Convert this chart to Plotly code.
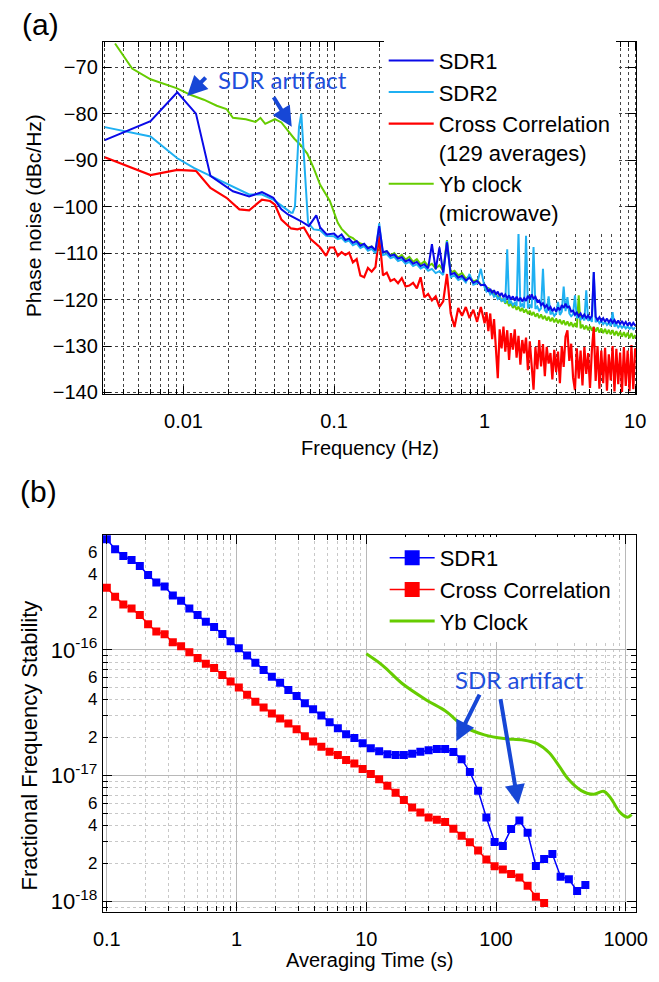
import math
import plotly.graph_objects as go

W, H = 659, 982


def px(x):
    return x / W


def py(y):
    return 1 - y / H


# ---------------- panel (a): phase noise ----------------
# low-frequency parts (Hz, dBc/Hz)
sdr1_lo_f = [0.003, 0.00604, 0.0091, 0.0121, 0.0151, 0.0213, 0.0273, 0.0332, 0.0395,
             0.0447, 0.0494, 0.0601, 0.068, 0.0762, 0.0809, 0.0893]
sdr1_lo = [-85.7, -81.6, -75.4, -80.0, -93.4, -96.7, -97.8, -96.9, -98.1,
           -100.6, -101.7, -103.1, -104.2, -101.9, -104.5, -106.0]

sdr2_lo_f = [0.003, 0.00604, 0.0091, 0.0118, 0.0151, 0.0273, 0.0332, 0.0395, 0.0518,
             0.0531, 0.0550, 0.0585, 0.0606, 0.0630, 0.0672, 0.0732, 0.0809, 0.0885]
sdr2_lo = [-82.9, -84.9, -89.6, -91.7, -93.4, -97.4, -97.4, -98.5, -101.3,
           -101.3, -100.0, -82.9, -80.0, -88.2, -103.5, -104.9, -105.1, -106.3]

cross_lo_f = [0.003, 0.00604, 0.0091, 0.0121, 0.0151, 0.0193, 0.0235, 0.0273, 0.0332,
              0.0376, 0.0405, 0.0447, 0.0518, 0.0571, 0.0630, 0.0699, 0.0809, 0.0885, 0.0938]
cross_lo = [-89.4, -93.2, -92.1, -92.3, -96.0, -98.1, -100.6, -100.8, -98.5,
            -98.8, -99.6, -102.8, -104.7, -104.9, -104.5, -107.0, -108.8, -110.6, -108.8]

yb_lo_f = [0.00351, 0.00456, 0.00604, 0.00898, 0.01122, 0.01365, 0.01663, 0.01929, 0.0213,
           0.02594, 0.03008, 0.03243, 0.03491, 0.04049, 0.04469, 0.04937, 0.05449, 0.06014,
           0.06637, 0.07323, 0.08087, 0.09381]
yb_lo = [-64.9, -70.3, -72.6, -74.5, -76.0, -77.0, -78.3, -79.0, -80.9,
         -81.2, -81.8, -80.9, -82.2, -81.2, -81.9, -83.6, -85.4, -86.8,
         -88.6, -91.7, -95.3, -98.8]

# high-frequency part, shared frequency list (Hz)
f_hi = [0.1, 0.1059, 0.1122, 0.1189, 0.1259, 0.1334, 0.1413, 0.1496, 0.1585, 0.1679,
        0.1778, 0.1884, 0.1995, 0.2113, 0.2239, 0.2371, 0.2512, 0.2661, 0.2818, 0.2985,
        0.3162, 0.3350, 0.3548, 0.3758, 0.3981, 0.4217, 0.4467, 0.4732, 0.5012, 0.5309,
        0.5623, 0.5957, 0.6310, 0.6683, 0.7079, 0.7499, 0.7943, 0.8414, 0.8913, 0.9441,
        1.0,
        1.029, 1.059, 1.090, 1.122, 1.155, 1.189, 1.223, 1.259, 1.296, 1.334,
        1.372, 1.413, 1.454, 1.496, 1.540, 1.585, 1.631, 1.679, 1.728, 1.778,
        1.830, 1.884, 1.939, 1.995, 2.054, 2.113, 2.175, 2.239, 2.304, 2.371,
        2.441, 2.512, 2.585, 2.661, 2.738, 2.818, 2.901, 2.985, 3.073, 3.162,
        3.255, 3.350, 3.447, 3.548, 3.652, 3.758, 3.868, 3.981, 4.097, 4.217,
        4.340, 4.467, 4.597, 4.732, 4.870, 5.012, 5.158, 5.309, 5.464, 5.623,
        5.788, 5.957, 6.131, 6.310, 6.494, 6.683, 6.879, 7.079, 7.286, 7.499,
        7.718, 7.943, 8.175, 8.414, 8.660, 8.913, 9.173, 9.441, 9.716, 10.0]

sdr1_hi = [-105.8, -106.6, -106.0, -107.2, -106.9, -107.8, -107.4, -108.4, -108.0, -109.0,
           -108.6, -109.4, -104.2, -109.8, -109.6, -110.6, -110.3, -111.2, -110.9, -111.8,
           -111.4, -112.3, -111.9, -112.8, -112.4, -113.3, -108.1, -113.5, -108.8, -114.2,
           -107.7, -114.6, -114.3, -115.3, -114.9, -115.9, -115.3, -116.4, -116.0, -116.9,
           -116.8,
           -117.3, -118.3, -117.7, -118.6, -118.0, -118.9, -118.3, -119.2, -118.6, -119.5,
           -118.9, -119.7, -119.1, -120.0, -119.3, -120.2, -119.4, -120.3, -119.6, -120.4,
           -119.7, -120.3, -119.2, -119.9, -118.9, -119.8, -119.4, -120.5, -120.2, -121.2,
           -120.8, -121.7, -121.2, -122.1, -121.6, -122.5, -121.9, -122.6, -121.7, -122.3,
           -121.2, -121.8, -120.9, -121.7, -121.5, -122.6, -122.4, -123.3, -122.8, -123.6,
           -123.0, -123.8, -123.2, -124.0, -123.4, -124.1, -123.5, -114.1, -123.7, -124.4,
           -123.8, -124.6, -124.0, -124.8, -124.1, -124.9, -124.3, -125.0, -124.4, -125.2,
           -124.5, -125.3, -124.6, -125.4, -124.8, -125.6, -124.9, -125.7, -125.0, -125.6]

sdr2_hi = [-106.4, -107.0, -106.7, -107.6, -107.3, -108.3, -107.9, -108.9, -108.5, -109.5,
           -109.1, -110.0, -103.6, -110.4, -110.2, -111.1, -110.8, -111.7, -111.4, -112.3,
           -111.9, -112.8, -112.4, -113.3, -112.9, -113.8, -113.4, -114.3, -113.9, -114.7,
           -107.4, -115.2, -114.8, -115.8, -115.4, -116.3, -114.5, -116.8, -116.5, -113.4,
           -117.4,
           -118.3, -117.9, -118.9, -118.5, -119.4, -119.0, -119.9, -119.5, -120.3, -119.9,
           -120.7, -109.2, -120.9, -120.4, -121.2, -120.7, -121.4, -105.6, -121.6, -121.0,
           -121.8, -106.3, -121.9, -121.2, -121.8, -108.7, -122.0, -121.5, -122.4, -121.9,
           -113.4, -122.3, -122.9, -119.3, -123.2, -122.7, -123.5, -123.0, -120.5, -123.3,
           -122.6, -117.2, -122.5, -119.5, -123.0, -123.6, -123.2, -119.1, -124.0, -123.5,
           -124.3, -123.8, -124.5, -118.0, -124.6, -124.0, -124.8, -114.1, -124.9, -124.3,
           -125.1, -124.6, -125.3, -124.8, -125.5, -125.0, -125.7, -122.7, -125.8, -125.3,
           -126.0, -125.5, -126.1, -125.6, -126.2, -125.8, -126.3, -125.9, -126.4, -126.0]

cross_hi = [-108.8, -110.6, -109.8, -110.4, -109.9, -112.0, -111.3, -114.8, -115.2, -113.2,
            -114.0, -113.0, -106.3, -114.8, -114.2, -116.0, -115.6, -116.5, -115.4, -117.2,
            -117.0, -116.4, -117.6, -115.2, -119.5, -118.8, -120.2, -119.3, -121.6, -120.4,
            -114.5, -123.0, -125.9, -121.8, -123.5, -121.6, -124.0, -122.2, -124.8, -121.6,
            -125.1,
            -122.7, -126.8, -123.0, -128.5, -124.2, -132.0, -136.9, -126.4, -130.5, -125.8,
            -131.2, -126.6, -133.0, -127.2, -130.8, -126.4, -132.5, -127.8, -134.0, -128.7,
            -131.6, -128.2, -135.2, -129.0, -133.8, -139.4, -130.2, -135.0, -128.7, -134.4,
            -129.6, -136.5, -130.2, -133.8, -131.5, -137.2, -130.8, -135.6, -131.2, -138.0,
            -130.0, -134.5, -128.0, -126.6, -133.2, -129.5, -136.8, -139.5, -130.5, -137.0,
            -131.0, -138.5, -130.2, -136.0, -131.5, -139.0, -130.8, -125.9, -137.5, -130.0,
            -139.2, -131.0, -138.0, -130.4, -139.6, -131.8, -137.4, -130.0, -139.8, -130.6,
            -138.2, -131.4, -139.9, -130.2, -138.6, -131.0, -139.7, -129.8, -139.3, -130.5]

yb_hi = [-101.5, -103.5, -104.8, -105.6, -106.4, -106.8, -107.5, -107.9, -108.2, -108.8,
         -108.6, -109.5, -109.3, -110.0, -109.6, -110.5, -110.0, -111.0, -110.4, -111.4,
         -110.8, -111.9, -111.3, -112.4, -111.8, -112.8, -112.3, -113.3, -112.6, -113.8,
         -107.2, -114.2, -113.8, -114.8, -114.3, -115.5, -115.0, -116.1, -115.8, -116.8,
         -116.9,
         -118.0, -117.4, -118.6, -118.0, -119.2, -118.6, -119.8, -119.2, -120.4, -119.8,
         -120.9, -120.3, -121.4, -120.8, -121.8, -121.2, -122.2, -121.5, -122.5, -121.8,
         -122.8, -122.1, -123.1, -122.4, -123.4, -122.7, -123.7, -123.0, -124.0, -123.2,
         -124.2, -123.5, -124.5, -123.7, -124.7, -123.9, -124.9, -124.1, -125.1, -124.3,
         -125.3, -124.5, -125.5, -124.7, -125.7, -124.9, -125.9, -125.1, -126.0, -119.1,
         -126.2, -125.4, -126.4, -125.6, -126.6, -125.7, -126.7, -125.9, -126.9, -126.0,
         -127.1, -126.2, -127.2, -126.3, -127.4, -126.5, -127.5, -126.6, -127.7, -126.8,
         -127.8, -126.9, -128.0, -127.0, -128.1, -127.1, -128.3, -127.2, -128.4, -127.6]

freq_ticks = [0.01, 0.1, 1, 10]
freq_ticktext = ["0.01", "0.1", "1", "10"]
pn_ticks = [-70, -80, -90, -100, -110, -120, -130, -140]

# ---------------- panel (b): Allan deviation ----------------
tau = [0.1, 0.1158, 0.134, 0.1551, 0.1796, 0.208, 0.2407, 0.2787, 0.3227, 0.3736,
       0.4325, 0.5007, 0.5797, 0.6711, 0.777, 0.8995, 1.041, 1.206, 1.396, 1.616,
       1.871, 2.166, 2.507, 2.903, 3.361, 3.89, 4.504, 5.214, 6.037, 6.989,
       8.091, 9.367, 10.84, 12.56, 14.54, 16.83, 19.48, 22.56, 26.11, 30.23,
       35.0, 40.52, 46.91, 54.31, 62.87, 72.78, 84.27, 97.54, 112.9, 130.7,
       151.4, 175.2, 202.9, 234.9, 271.9, 314.8, 364.4, 421.9, 488.4]

sdr1_adev = [7.59e-16, 6.32e-16, 5.57e-16, 5.18e-16, 4.65e-16, 3.94e-16, 3.43e-16, 3.19e-16, 2.71e-16, 2.46e-16,
             2.13e-16, 1.89e-16, 1.67e-16, 1.52e-16, 1.34e-16, 1.17e-16, 1.03e-16, 9.02e-17, 7.91e-17, 6.92e-17,
             6.10e-17, 5.47e-17, 4.79e-17, 4.30e-17, 3.76e-17, 3.37e-17, 3.01e-17, 2.66e-17, 2.38e-17, 2.13e-17,
             1.99e-17, 1.81e-17, 1.65e-17, 1.56e-17, 1.48e-17, 1.46e-17, 1.46e-17, 1.49e-17, 1.55e-17, 1.59e-17,
             1.63e-17, 1.63e-17, 1.54e-17, 1.35e-17, 1.07e-17, 7.59e-18, 4.65e-18, 2.96e-18, 2.76e-18, 3.76e-18,
             4.40e-18, 3.52e-18, 1.91e-18, 2.17e-18, 2.38e-18, 1.57e-18, 1.50e-18, 1.21e-18, 1.35e-18]

cross_adev = [3.12e-16, 2.65e-16, 2.30e-16, 2.13e-16, 1.89e-16, 1.60e-16, 1.40e-16, 1.33e-16, 1.15e-16, 1.07e-16,
              9.59e-17, 8.61e-17, 7.76e-17, 7.18e-17, 6.32e-17, 5.60e-17, 5.02e-17, 4.40e-17, 3.87e-17, 3.48e-17,
              3.12e-17, 2.84e-17, 2.60e-17, 2.34e-17, 2.06e-17, 1.87e-17, 1.70e-17, 1.55e-17, 1.46e-17, 1.33e-17,
              1.25e-17, 1.13e-17, 1.03e-17, 9.35e-18, 8.30e-18, 7.31e-18, 6.40e-18, 5.57e-18, 5.08e-18, 4.65e-18,
              4.45e-18, 4.27e-18, 3.78e-18, 3.33e-18, 2.95e-18, 2.54e-18, 2.15e-18, 1.90e-18, 1.79e-18, 1.65e-18,
              1.55e-18, 1.33e-18, 1.09e-18, 9.70e-19]

yb_tau = [10.0, 13.4, 18.9, 29.0, 41.0, 57.7, 81.3, 115, 162, 209,
          257, 305, 363, 454, 568, 673, 760, 903, 1035, 1109]
yb_adev = [9.3e-17, 7.5e-17, 5.4e-17, 4.0e-17, 3.25e-17, 2.43e-17, 2.11e-17, 1.97e-17, 1.92e-17, 1.79e-17,
           1.52e-17, 1.20e-17, 9.3e-18, 7.6e-18, 7.1e-18, 7.5e-18, 6.7e-18, 5.1e-18, 4.67e-18, 4.9e-18]

tau_ticks = [0.1, 1, 10, 100, 1000]
tau_ticktext = ["0.1", "1", "10", "100", "1000"]
adev_decades = [1e-18, 1e-17, 1e-16]
adev_decade_text = ["10<sup>-18</sup>", "10<sup>-17</sup>", "10<sup>-16</sup>"]
adev_minor_labels = [2e-18, 4e-18, 6e-18, 2e-17, 4e-17, 6e-17, 2e-16, 4e-16, 6e-16]
adev_minor_text = ["2", "4", "6", "2", "4", "6", "2", "4", "6"]

# ---------------- colours ----------------
C_SDR1 = "#0a0ae8"
C_SDR1B = "#0000ff"
C_SDR2 = "#1fb0f2"
C_RED = "#ff0000"
C_GREEN = "#66cc00"
C_NOTE = "#1f4fdc"
FONT = "Liberation Sans, Arial, sans-serif"

fig = go.Figure()

# panel (a) traces (drawn: Yb, cross, SDR2, SDR1)
fig.add_trace(go.Scatter(x=yb_lo_f + f_hi, y=yb_lo + yb_hi, mode="lines",
                         line=dict(color=C_GREEN, width=2), name="Yb clock<br>(microwave)",
                         legendrank=4, xaxis="x", yaxis="y", legend="legend"))
fig.add_trace(go.Scatter(x=cross_lo_f + f_hi, y=cross_lo + cross_hi, mode="lines",
                         line=dict(color=C_RED, width=2.2), name="Cross Correlation<br>(129 averages)",
                         legendrank=3, xaxis="x", yaxis="y", legend="legend"))
fig.add_trace(go.Scatter(x=sdr2_lo_f + f_hi, y=sdr2_lo + sdr2_hi, mode="lines",
                         line=dict(color=C_SDR2, width=2), name="SDR2",
                         legendrank=2, xaxis="x", yaxis="y", legend="legend"))
fig.add_trace(go.Scatter(x=sdr1_lo_f + f_hi, y=sdr1_lo + sdr1_hi, mode="lines",
                         line=dict(color=C_SDR1, width=2), name="SDR1",
                         legendrank=1, xaxis="x", yaxis="y", legend="legend"))

# panel (b) traces
fig.add_trace(go.Scatter(x=tau, y=sdr1_adev, mode="lines+markers",
                         line=dict(color=C_SDR1B, width=1.5),
                         marker=dict(symbol="square", size=8, color=C_SDR1B),
                         showlegend=False, xaxis="x2", yaxis="y2"))
fig.add_trace(go.Scatter(x=tau[:len(cross_adev)], y=cross_adev, mode="lines+markers",
                         line=dict(color=C_RED, width=1.5),
                         marker=dict(symbol="square", size=8, color=C_RED),
                         showlegend=False, xaxis="x2", yaxis="y2"))
fig.add_trace(go.Scatter(x=yb_tau, y=yb_adev, mode="lines", line_shape="spline",
                         line=dict(color=C_GREEN, width=3),
                         showlegend=False, xaxis="x2", yaxis="y2"))
# legend entries for panel (b)
for nm, col, mode, w, rank in [("SDR1", C_SDR1B, "lines+markers", 1.5, 1),
                               ("Cross Correlation", C_RED, "lines+markers", 1.5, 2),
                               ("Yb Clock", C_GREEN, "lines", 3, 3)]:
    fig.add_trace(go.Scatter(x=[None], y=[None], mode=mode, name=nm,
                             line=dict(color=col, width=w),
                             marker=dict(symbol="square", size=15, color=col),
                             legendrank=rank, xaxis="x2", yaxis="y2", legend="legend2"))

a_minor = [m * 10.0 ** e for e in range(-3, 1) for m in range(2, 10)]
b_xminor = [m * 10.0 ** e for e in range(-1, 3) for m in range(2, 10)]
b_yminor = [m * 10.0 ** e for e in range(-19, -16) for m in range(2, 10)]

common_ax = dict(showline=True, linecolor="black", linewidth=1.3, mirror="ticks",
                 ticks="inside", tickcolor="black", zeroline=False)

fig.update_layout(
    width=W, height=H, margin=dict(l=0, r=0, t=0, b=0),
    paper_bgcolor="white", plot_bgcolor="white",
    font=dict(family=FONT, color="black", size=20),
    xaxis=dict(domain=[px(96), px(647)], anchor="y", type="log", range=[-2.535, 1.008],
               tickvals=freq_ticks, ticktext=freq_ticktext, ticklen=8, tickwidth=1,
               tickfont=dict(size=20), ticklabelstandoff=8,
               showgrid=True, gridcolor="#444444", griddash="dot", gridwidth=1,
               minor=dict(tickvals=a_minor, ticks="inside", ticklen=5, tickcolor="black",
                          showgrid=True, gridcolor="#444444", griddash="dot", gridwidth=1),
               **common_ax),
    yaxis=dict(domain=[py(398), py(42)], anchor="x", range=[-140.4, -64.5],
               tickvals=pn_ticks, ticklen=8, tickwidth=1, tickfont=dict(size=20),
               showgrid=True, gridcolor="#444444", griddash="dot", gridwidth=1,
               **common_ax),
    xaxis2=dict(domain=[px(96), px(647)], anchor="y2", type="log", range=[-1.030, 3.082],
                tickvals=tau_ticks, ticktext=tau_ticktext, ticklen=9, tickwidth=1.3,
                tickfont=dict(size=20), ticklabelstandoff=9,
                showgrid=True, gridcolor="#b8b8b8", gridwidth=1.2,
                minor=dict(tickvals=b_xminor, ticks="inside", ticklen=5, tickcolor="black",
                           showgrid=True, gridcolor="#c8c8c8", griddash="dot", gridwidth=1),
                **common_ax),
    yaxis2=dict(domain=[py(920), py(540)], anchor="x2", type="log", range=[-18.081, -15.087],
                tickvals=adev_decades, ticktext=adev_decade_text, ticklen=9, tickwidth=1.3,
                tickfont=dict(size=22),
                showgrid=True, gridcolor="#b8b8b8", gridwidth=1.2,
                minor=dict(tickvals=b_yminor, ticks="inside", ticklen=5, tickcolor="black",
                           showgrid=True, gridcolor="#c8c8c8", griddash="dot", gridwidth=1),
                **common_ax),
    legend=dict(x=px(386), y=py(40), xanchor="left", yanchor="top", bgcolor="white",
                font=dict(family=FONT, size=22), itemwidth=45, tracegroupgap=0,
                valign="top", traceorder="normal"),
    legend2=dict(x=px(387), y=py(542), xanchor="left", yanchor="top", bgcolor="white",
                 font=dict(family=FONT, size=22), itemwidth=45, tracegroupgap=0,
                 traceorder="normal"),
)

ann = []
# panel labels
ann.append(dict(text="(a)", x=px(10), y=py(25), xref="paper", yref="paper",
                xanchor="left", yanchor="middle", showarrow=False, font=dict(size=30)))
ann.append(dict(text="(b)", x=px(8), y=py(496), xref="paper", yref="paper",
                xanchor="left", yanchor="middle", showarrow=False, font=dict(size=30)))
# axis titles
ann.append(dict(text="Phase noise (dBc/Hz)", x=px(24), y=py(218), xref="paper", yref="paper",
                xanchor="center", yanchor="middle",
                textangle=-90, showarrow=False, font=dict(size=21)))
ann.append(dict(text="Frequency (Hz)", x=px(372), y=py(452), xref="paper", yref="paper",
                xanchor="center", yanchor="middle", showarrow=False, font=dict(size=20)))
ann.append(dict(text="Fractional Frequency Stability", x=px(20), y=py(752), xref="paper",
                yref="paper", xanchor="center", yanchor="middle",
                textangle=-90, showarrow=False, font=dict(size=22)))
ann.append(dict(text="Averaging Time (s)", x=px(371), y=py(969), xref="paper", yref="paper",
                xanchor="center", yanchor="middle", showarrow=False, font=dict(size=20)))
# minor labels of panel (b) y axis
for v, t in zip(adev_minor_labels, adev_minor_text):
    ann.append(dict(text=t, x=px(92), y=math.log10(v), xref="paper", yref="y2",
                    xanchor="right", yanchor="middle", showarrow=False, font=dict(size=17)))
# SDR artifact notes
ann.append(dict(text="SDR artifact", x=px(281), y=py(80), xref="paper", yref="paper",
                xanchor="center", yanchor="middle",
                showarrow=False, font=dict(family="Lato, sans-serif", size=24, color=C_NOTE)))
ann.append(dict(text="SDR artifact", x=px(526), y=py(686), xref="paper", yref="paper",
                xanchor="center", yanchor="middle",
                showarrow=False, font=dict(family="Lato, sans-serif", size=24, color=C_NOTE)))
for (tx, ty, hx, hy) in [(203, 77, 183, 97), (272, 97, 291, 128),
                         (485, 700, 461, 748), (507, 705, 525, 812)]:
    ann.append(dict(text="", x=px(hx), y=py(hy), xref="paper", yref="paper",
                    ax=tx - hx, ay=ty - hy, axref="pixel", ayref="pixel",
                    showarrow=True, arrowhead=2, arrowsize=1, arrowwidth=4,
                    arrowcolor="#1747d6"))
fig.update_layout(annotations=ann)

fig.write_html("out.html",
               config={"displayModeBar": False},
               post_script="document.body.style.margin='0px';"
                           "document.body.style.padding='0px';"
                           "document.documentElement.style.overflow='hidden';")
